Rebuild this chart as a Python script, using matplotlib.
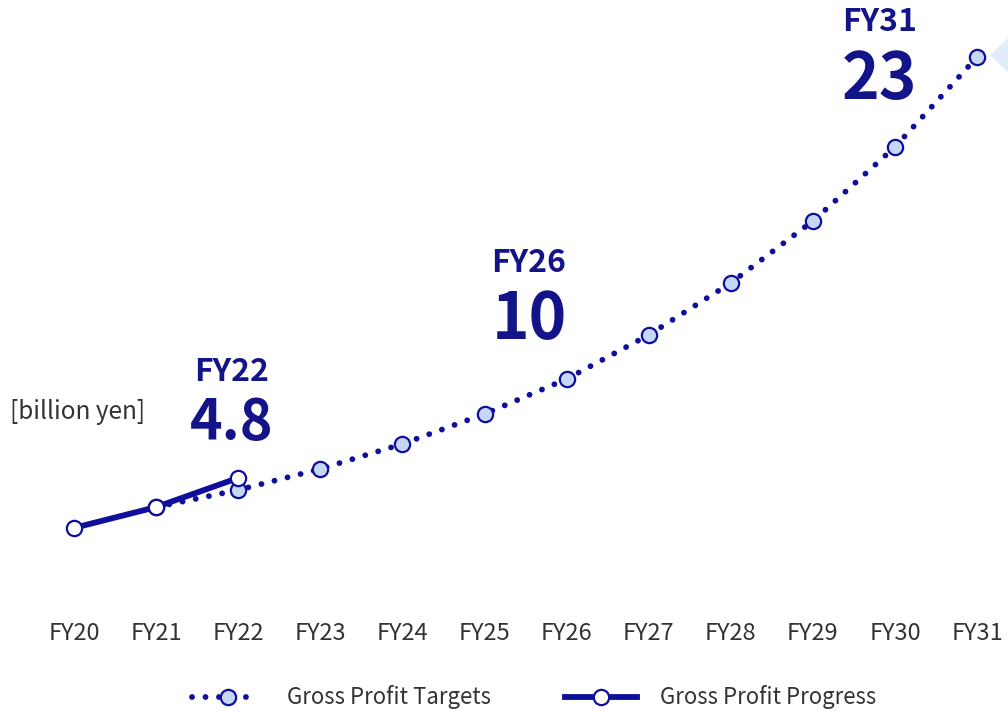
import numpy as np
import matplotlib.pyplot as plt
from matplotlib.patches import Polygon

plt.rcParams['font.family'] = ['Noto Sans CJK JP', 'DejaVu Sans']

years = ['FY20', 'FY21', 'FY22', 'FY23', 'FY24', 'FY25',
         'FY26', 'FY27', 'FY28', 'FY29', 'FY30', 'FY31']

# drawn heights (the chart is schematic)
progress_years = ['FY20', 'FY21', 'FY22']
progress = [4.00, 4.84, 6.02]
target_years = years[1:]
targets = [4.84, 5.53, 6.38, 7.39, 8.60, 10.01, 11.79, 13.89, 16.39, 19.38, 23.01]

callout_years = ['FY22', 'FY26', 'FY31']
callout_values = ['4.8', '10', '23']

navy = '#14148a'
line_c = '#0f0f9c'
fill_c = '#c6d6f6'

fig = plt.figure(figsize=(10.08, 7.11), dpi=100)
ax = fig.add_axes([0, 0, 1, 1])
ax.set_xlim(-74 / 82.1, (1008 - 74) / 82.1)
ax.set_ylim((627 - 711) / 24.77, 627 / 24.77)
ax.axis('off')

xi = {y: i for i, y in enumerate(years)}

# light triangle at top right
tri = Polygon([[990, 711 - 55], [1012, 711 - 34], [1012, 711 - 76]], closed=True,
              transform=None, facecolor='#e4ebfb', edgecolor='none')
fig.patches.append(tri)

dots = (0, (0.01, 2.3))
tx = [xi[y] for y in target_years]
ax.plot(tx, targets, color=line_c, lw=4.2, linestyle=dots,
        dash_capstyle='round', zorder=2)
ax.plot(tx, targets, 'o', color=line_c, ms=11, mfc=fill_c, mew=1.6, zorder=3)

px = [xi[y] for y in progress_years]
ax.plot(px, progress, color=line_c, lw=4.2, zorder=4)
ax.plot(px, progress, 'o', color=line_c, ms=11, mfc='white', mew=1.6, zorder=5)

# callout texts in pixel positions
labels_px = {'FY22': (232, 372, 423, 40), 'FY26': (529, 263, 320, 46),
             'FY31': (880, 22, 80, 46)}
for y, v in zip(callout_years, callout_values):
    cx, fy, vy, fs = labels_px[y]
    fig.text(cx / 1008, 1 - fy / 711, y, ha='center', va='center',
             fontsize=23, fontweight='bold', color=navy)
    fig.text(cx / 1008, 1 - vy / 711, v, ha='center', va='center',
             fontsize=fs, fontweight='bold', color=navy)

fig.text(10 / 1008, 1 - 412 / 711, '[billion yen]', ha='left', va='center',
         fontsize=17.5, color='#333333')

for y in years:
    ax.text(xi[y], (627 - 633) / 24.77, y, ha='center', va='center',
            fontsize=17, color='#333333')

# legend
lg = fig.add_axes([0, 0, 1, 1], facecolor='none')
lg.set_xlim(0, 1008)
lg.set_ylim(711, 0)
lg.axis('off')
lg.plot([192, 250], [697, 697], color=line_c, lw=4.2, linestyle=dots,
        dash_capstyle='round')
lg.plot([228], [697], 'o', color=line_c, ms=11, mfc=fill_c, mew=1.6)
lg.text(287, 697, 'Gross Profit Targets', ha='left', va='center',
        fontsize=16, color='#333333')
lg.plot([565, 637], [697, 697], color=line_c, lw=4.2)
lg.plot([601], [697], 'o', color=line_c, ms=11, mfc='white', mew=1.6)
lg.text(660, 697, 'Gross Profit Progress', ha='left', va='center',
        fontsize=16, color='#333333')

fig.savefig('out.png', dpi=100)
